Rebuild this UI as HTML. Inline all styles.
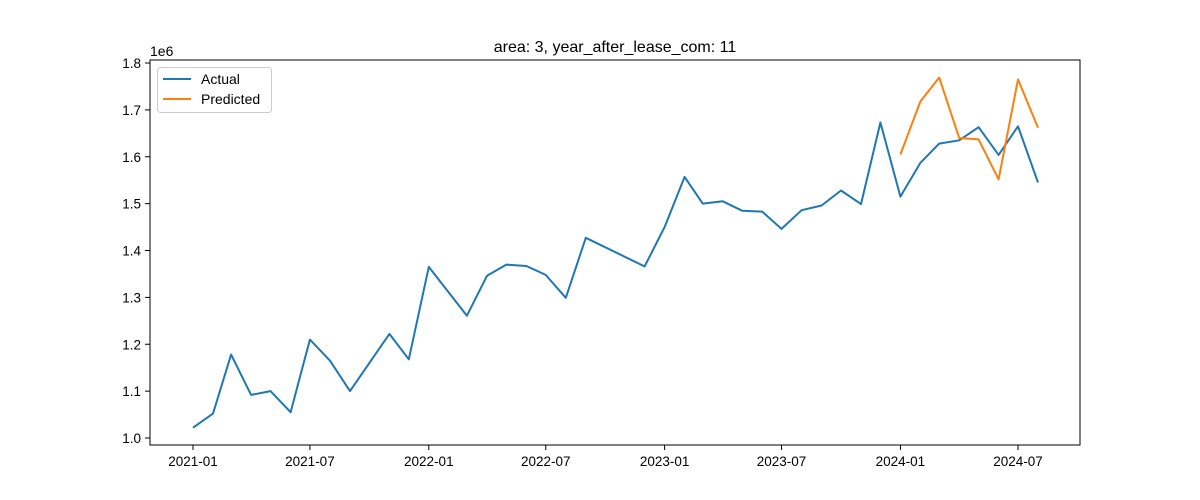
<!DOCTYPE html>
<html><head><meta charset="utf-8"><style>
html,body{margin:0;padding:0;background:#fff}
svg{display:block;font-family:"Liberation Sans","DejaVu Sans",sans-serif}
</style></head><body>
<svg id="chart" width="1200" height="500" xmlns="http://www.w3.org/2000/svg">
<rect width="1200" height="500" fill="#fff"/>
<text x="615" y="52" text-anchor="middle" font-size="16" fill="#000">area: 3, year_after_lease_com: 11</text>
<text x="150" y="56" font-size="14" fill="#000">1e6</text>
<g id="grid"></g>
<g id="series"></g>
<rect x="150" y="60" width="930" height="385" fill="none" stroke="#000" stroke-width="1"/>
<g>
<rect x="157.5" y="67.5" width="114" height="45" rx="3" fill="#fff" fill-opacity="0.8" stroke="#ccc"/>
<line x1="163" y1="79" x2="191" y2="79" stroke="#1f77b4" stroke-width="2"/>
<text x="201" y="84" font-size="14">Actual</text>
<line x1="163" y1="99" x2="191" y2="99" stroke="#ff7f0e" stroke-width="2"/>
<text x="201" y="104" font-size="14">Predicted</text>
</g>
</svg>
<script>
const actualDates = ["2021-01","2021-02","2021-03","2021-04","2021-05","2021-06","2021-07","2021-08","2021-09","2021-11","2021-12","2022-01","2022-03","2022-04","2022-05","2022-06","2022-07","2022-08","2022-09","2022-12","2023-01","2023-02","2023-03","2023-04","2023-05","2023-06","2023-07","2023-08","2023-09","2023-10","2023-11","2023-12","2024-01","2024-02","2024-03","2024-04","2024-05","2024-06","2024-07","2024-08"];
const actualValues = [1.022,1.052,1.178,1.092,1.100,1.055,1.210,1.165,1.100,1.222,1.168,1.365,1.261,1.346,1.370,1.367,1.348,1.299,1.427,1.366,1.450,1.557,1.500,1.505,1.485,1.483,1.446,1.486,1.496,1.528,1.499,1.673,1.515,1.587,1.628,1.635,1.663,1.604,1.665,1.545];
const predDates = ["2024-01","2024-02","2024-03","2024-04","2024-05","2024-06","2024-07","2024-08"];
const predValues = [1.605,1.718,1.769,1.640,1.637,1.552,1.765,1.662];
const xTicks = ["2021-01","2021-07","2022-01","2022-07","2023-01","2023-07","2024-01","2024-07"];
const yTicks = [1.0,1.1,1.2,1.3,1.4,1.5,1.6,1.7,1.8];

const NS="http://www.w3.org/2000/svg";
function day(s){const [y,m]=s.split("-").map(Number);return Date.UTC(y,m-1,1)/86400000;}
const d0=day("2021-01"), d1=day("2024-07");
function xs(s){return 193+(day(s)-d0)*(1018-193)/(d1-d0);}
function ys(v){return 438-(v-1.0)*468.75;}
const grid=document.getElementById("grid"), series=document.getElementById("series");
function mk(tag,attrs,parent){const e=document.createElementNS(NS,tag);for(const k in attrs)e.setAttribute(k,attrs[k]);parent.appendChild(e);return e;}
xTicks.forEach(t=>{
  const x=xs(t);
  const l=mk("line",{x1:x,y1:445,x2:x,y2:450,stroke:"#000"},grid);
  
  
  const tx=mk("text",{x:x,y:466,"text-anchor":"middle","font-size":"13.5"},grid);
  tx.textContent=t;
  
  
});
yTicks.forEach(v=>{
  const y=ys(v);
  const l=mk("line",{x1:145,y1:y,x2:150,y2:y,stroke:"#000"},grid);
  
  
  const tx=mk("text",{x:141,y:y+5,"text-anchor":"end","font-size":"13.5"},grid);
  tx.textContent=v.toFixed(1);
  
  
});
function line(dates,vals,color,name){
  const pts=dates.map((d,i)=>xs(d).toFixed(1)+","+ys(vals[i]).toFixed(1)).join(" ");
  const p=mk("polyline",{points:pts,fill:"none",stroke:color,"stroke-width":"2","stroke-linejoin":"round"},series);
  
  
}
line(actualDates,actualValues,"#1f77b4","actual-line");
line(predDates,predValues,"#ff7f0e","predicted-line");
</script>
</body></html>
